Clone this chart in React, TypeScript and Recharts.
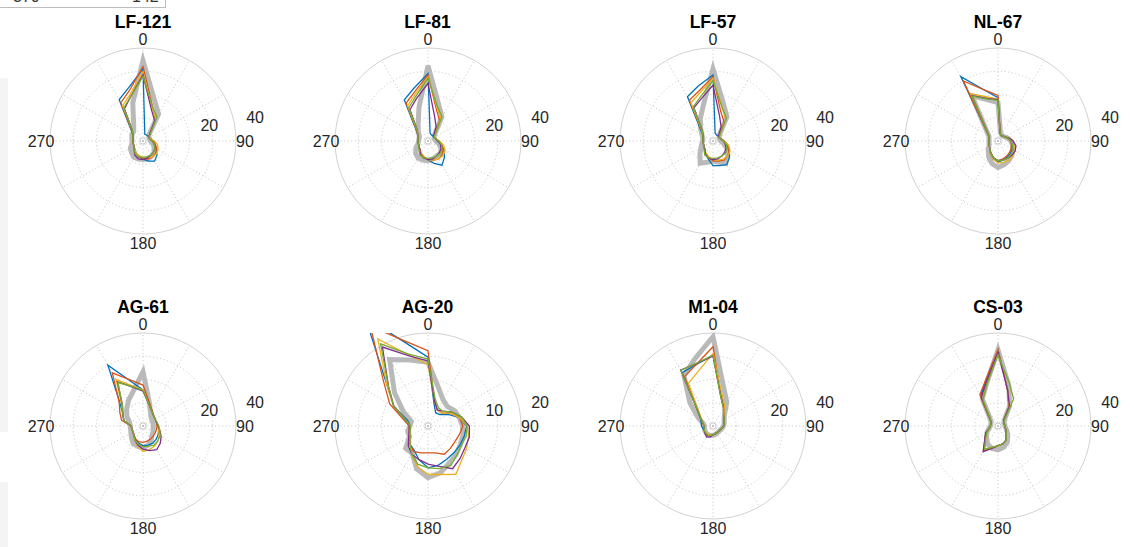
import React from 'react';
import { RadarChart, Radar, PolarGrid, PolarAngleAxis, PolarRadiusAxis } from 'recharts';

// ---------- data ----------
const ANGLES = [0, 15, 30, 45, 60, 75, 90, 105, 120, 135, 150, 165, 180, 195, 210, 225, 240, 255, 270, 285, 300, 315, 330, 345];
const ANGLE_LABELS = [0, 90, 180, 270];
const SPOKE_ANGLES = [0, 30, 60, 90, 120, 150, 180, 210, 240, 270, 300, 330];
const TITLES = ['LF-121', 'LF-81', 'LF-57', 'NL-67', 'AG-61', 'AG-20', 'M1-04', 'CS-03'];
const R_MAX = [40, 40, 40, 40, 40, 20, 40, 40];
const R_TICKS_40 = [20, 40];
const R_TICKS_20 = [10, 20];

// LF-121
const lf121Gray = [34.5, 18.6, 13.4, 3.5, 3, 3, 3.2, 4.5, 5.5, 6.7, 7.5, 8, 8, 8, 8, 7, 6.3, 5, 4.7, 5, 5.5, 5.7, 8, 17];
const lf121Blue = [31, 3, 3, 3, 3, 3.5, 4, 5, 6.5, 8.5, 10, 9, 7.8, 7, 6, 5, 4.5, 4.3, 4.3, 4.5, 5, 7.5, 20.5, 23.8];
const lf121Red = [32, 15.6, 10.8, 4, 3, 3.5, 4.5, 5.5, 7, 7.5, 8, 8, 7.5, 7, 6, 5, 4.5, 4.5, 4.5, 4.5, 5, 7, 19, 22.5];
const lf121Yellow = [29.8, 15, 11, 4, 3, 3.5, 5, 6.5, 7.5, 8, 8, 7.5, 7, 6.5, 6, 5, 4.5, 4.3, 4.3, 4.5, 5, 6.5, 17.5, 21];
const lf121Purple = [28.5, 14, 10, 4, 3, 3, 4, 5, 6, 6.5, 7, 7.5, 8, 8, 7, 5.5, 4.5, 4.3, 4.3, 4.5, 5, 6.5, 16, 20];
const lf121Green = [27.8, 15.5, 12, 4.5, 3, 3, 4, 5, 6, 6.5, 7, 7, 7, 7, 6.5, 5.5, 4.5, 4.3, 4.3, 4.5, 5, 6.5, 16.5, 20];

// LF-81
const lf81Gray = [32.4, 17, 12, 4, 3, 3, 3.3, 5, 6.5, 7.5, 7.5, 8, 8.5, 8.5, 8.5, 7.5, 6, 4.5, 4, 4, 4.3, 6, 8.5, 15];
const lf81Blue = [29, 3.5, 3, 3, 3, 3.5, 4, 6, 8, 10, 12, 10, 8, 7, 6, 5, 4.5, 4.3, 4.3, 4.5, 5, 7.5, 20.4, 23.5];
const lf81Red = [28.4, 14, 10, 4, 3, 3.5, 4.5, 6, 7.5, 8.5, 9, 8.5, 8, 7, 6, 5, 4.5, 4.3, 4.3, 4.5, 5, 7, 18.8, 22];
const lf81Yellow = [27.6, 15, 11, 4.5, 3, 3.5, 5, 7, 8.5, 9, 9, 8.5, 8, 7, 6, 5, 4.5, 4.3, 4.3, 4.5, 5, 6.8, 17.5, 21];
const lf81Purple = [24.8, 11, 7, 3.5, 3, 3.5, 4.5, 5.5, 6.5, 7, 7.5, 8, 8, 7.5, 6.5, 5, 4.5, 4.3, 4.3, 4.5, 5, 6.5, 15.5, 19];
const lf81Green = [27, 15.5, 12, 4.5, 3, 3.5, 4.5, 6, 7, 7.5, 7.5, 7.5, 7.5, 7.5, 7, 5.5, 4.5, 4.3, 4.3, 4.5, 5, 6.5, 16.5, 20];

// LF-57
const lf57Gray = [31, 17, 12, 4, 3, 3, 3.3, 5, 7, 9, 11, 9.5, 8.5, 9.5, 11, 8, 6, 5, 4.5, 4.5, 5.5, 7.5, 11, 16];
const lf57Blue = [28.4, 3.5, 3, 3, 3, 3.5, 4.5, 6, 8, 10, 11.8, 11, 10.6, 8, 6.5, 5, 4.5, 4.3, 4.3, 4.5, 5, 8, 22, 24.5];
const lf57Red = [27.6, 13, 9.5, 4, 3, 3.5, 5, 6.5, 8, 9, 9.5, 9, 8.5, 7.5, 6.5, 5, 4.5, 4.3, 4.3, 4.5, 5, 7, 20.3, 22.5];
const lf57Yellow = [27, 15, 11, 4.5, 3, 3.5, 5, 7, 8.5, 9, 9, 8.5, 8, 7, 6, 5, 4.5, 4.3, 4.3, 4.5, 5, 7, 19, 21.5];
const lf57Purple = [24, 11, 7, 3.5, 3, 3.5, 4.5, 5.5, 6.5, 7, 7.5, 8, 8, 7.5, 6.5, 5, 4.5, 4.3, 4.3, 4.5, 5, 6.5, 16.5, 19];
const lf57Green = [26, 15, 11.5, 4.5, 3, 3.5, 4.5, 6, 7, 7.5, 7.5, 7.5, 7.5, 7.5, 7, 5.5, 4.5, 4.3, 4.3, 4.5, 5, 6.5, 17, 20];

// NL-67
const nl67Gray = [16.5, 4, 3, 3, 3.5, 4.5, 5.5, 6.5, 7.5, 8.5, 9.5, 10.5, 11.4, 10, 8, 6, 4.5, 4, 3.8, 4, 4.6, 7.5, 22.5, 18.4];
const nl67Blue = [18.6, 3.5, 2.7, 3, 3.5, 4.5, 5.5, 6.5, 7, 7.5, 8, 8.5, 9, 8, 6.5, 5, 4.3, 4, 3.8, 4, 4.6, 7.6, 32, 22.7];
const nl67Red = [19.6, 3.5, 2.7, 3, 3.5, 4.5, 5.5, 6, 6.5, 7, 7.5, 8, 8.5, 7.5, 6, 5, 4.3, 4, 3.8, 4, 4.6, 7.6, 29.8, 22.8];
const nl67Yellow = [18, 3.5, 2.7, 3, 3.5, 5, 6.5, 7.5, 8.5, 9, 9.5, 9.5, 9.5, 8, 6.5, 5, 4.3, 4, 3.8, 4, 4.6, 7, 23.5, 19.7];
const nl67Purple = [17.8, 3.5, 2.7, 3, 3.5, 5, 6.5, 8, 8.5, 8.6, 8.5, 8.5, 8.5, 7.5, 6, 5, 4.3, 4, 3.8, 4, 4.6, 7, 22.5, 19];
const nl67Green = [17.5, 3.5, 2.7, 3, 3.5, 4.5, 5.5, 6.5, 7.5, 8, 8.5, 8.5, 8.5, 7.5, 6, 5, 4.3, 4, 3.8, 4, 4.6, 7, 22.3, 18.8];

// AG-61
const ag61Gray = [23.3, 10.5, 6.5, 5, 4.5, 4.5, 4.5, 4.5, 5, 5.5, 7, 8.5, 9.5, 9, 8.6, 7, 6, 5.5, 5.5, 6, 8, 10, 12.6, 15.8];
const ag61Blue = [15.5, 9.8, 7.5, 6.4, 6, 6, 6.4, 7, 7.5, 8, 8.5, 8.5, 8.5, 7.5, 6.5, 5.5, 5, 5, 5, 8.5, 10, 14, 30.2, 19.8];
const ag61Red = [17.6, 10.5, 7.8, 6.5, 6, 6, 6, 6, 6, 6.2, 6.5, 6.7, 7, 7, 6.5, 5.5, 5, 5, 5.2, 9.5, 11.5, 14.5, 26.4, 20.4];
const ag61Yellow = [15.5, 9.8, 7.5, 6.4, 6, 6, 6.4, 7, 8, 9, 10, 10.5, 11, 9, 7, 5.5, 5, 5, 5, 8.5, 10, 13, 23.2, 17.9];
const ag61Purple = [15, 9.8, 7.5, 6.4, 6, 6, 6.5, 7.5, 9, 10.5, 11.8, 11, 10, 8.5, 7, 5.5, 5, 5, 5, 8.5, 10, 12.5, 22, 17.3];
const ag61Green = [15.3, 9.8, 7.5, 6.4, 6, 6.2, 6.8, 7.5, 8.5, 9, 9.5, 9, 9, 8, 7, 5.5, 5, 5, 5, 8.5, 10, 12.5, 21.6, 17.5];

// AG-20
const ag20Gray = [13.7, 8.6, 6.5, 5.9, 6.6, 7, 7.4, 7.8, 8, 8.6, 9.2, 10.4, 11.1, 9.5, 6.8, 6.8, 4.6, 4.5, 3.9, 3.7, 6.1, 10.2, 16.5, 14.7];
const ag20Blue = [14.8, 5, 3.3, 3.5, 5, 7, 8.3, 8.1, 8, 8, 8.2, 8.7, 9, 7.5, 6, 5.5, 4.5, 4, 3.8, 4.5, 8.5, 12.5, 27, 18.5];
const ag20Red = [16.2, 5.5, 4, 4, 5.5, 7, 7.5, 7, 6.7, 6.8, 7, 6, 5.8, 6, 6.3, 5.5, 4.5, 4.2, 4, 5.5, 9.5, 13.5, 24.8, 18.9];
const ag20Yellow = [13.2, 5.5, 4, 4, 5.5, 7, 8.5, 9, 9.6, 10.3, 12, 10.8, 10.4, 9, 7, 5.5, 4.5, 4, 3.8, 5, 8.5, 12.5, 21.6, 15.8];
const ag20Purple = [14, 5.5, 4, 4.5, 6, 7.5, 8.9, 9.2, 9.2, 9.8, 10.6, 9, 8.2, 7.5, 7, 6, 4.8, 4.2, 4, 5, 8.5, 12, 19.6, 15.6];
const ag20Green = [14.4, 6, 4.5, 4.5, 6, 7.5, 8.4, 8.5, 8.3, 8.8, 9.8, 9.5, 9, 8.5, 7, 5.5, 4.5, 4, 3.8, 5, 8.5, 12, 20.4, 16];

// M1-04
const m104Gray = [38.4, 17.5, 11.9, 7, 5.5, 5, 4.5, 4, 3.5, 3.5, 3.5, 3.8, 4, 4.3, 4.4, 4.2, 4, 3.8, 3.6, 4.5, 7.5, 14, 25, 30];
const m104Blue = [30.5, 14, 9.5, 6.8, 5.5, 5, 4.7, 4, 3.5, 3.3, 3.3, 3.5, 3.8, 4.2, 4.5, 4.3, 4.2, 4.5, 5, 5.2, 6.2, 9.5, 26.5, 27.4];
const m104Red = [34.1, 13.5, 9, 6.5, 5.5, 5, 4.5, 4, 3.5, 3.3, 3.3, 3.5, 3.8, 4.3, 4.8, 4.5, 4.2, 4, 3.9, 4.5, 5.8, 9, 24.5, 27.5];
const m104Yellow = [31.2, 14.5, 10, 7, 5.5, 5, 4.5, 4, 3.5, 3.3, 3.3, 3.5, 3.8, 4, 4.2, 4.1, 4, 3.9, 3.8, 4.3, 5.5, 8.5, 21.2, 24.4];
const m104Purple = [30, 13, 9, 6.5, 5.5, 5, 4.5, 4, 3.5, 3.3, 3.3, 3.5, 3.8, 4.8, 5.5, 4.8, 4.3, 4, 3.8, 4.5, 6, 9.3, 27.8, 27.8];
const m104Green = [30.5, 13, 9, 6.5, 5.5, 5, 4.5, 4, 3.5, 3.3, 3.3, 3.5, 3.8, 4.2, 4.5, 4.3, 4.2, 4, 3.8, 4.5, 6, 9.3, 27.6, 27.9];

// CS-03
const cs03Gray = [32.7, 18, 10, 4, 3, 3, 3, 3.5, 4.5, 6, 8, 9.5, 10.3, 10, 9, 7, 5.5, 4, 3.3, 3.2, 3.4, 5, 13.5, 19];
const cs03Blue = [32.7, 16, 9.5, 3.5, 2.8, 2.8, 3, 3.3, 4, 5, 7, 8, 8.5, 9.5, 12, 8, 6, 4, 3.3, 3.2, 3.4, 5.3, 15, 20];
const cs03Red = [33, 16, 9.5, 3.5, 2.8, 2.8, 3, 3.3, 4, 5, 7, 8, 8.5, 9.5, 12.3, 8, 6, 4, 3.3, 3.2, 3.4, 5.5, 15.6, 20.5];
const cs03Yellow = [32.5, 16, 9.5, 3.5, 2.8, 2.8, 3, 3.3, 4, 5, 7, 8, 8.7, 9.5, 11.5, 7.5, 5.5, 4, 3.3, 3.2, 3.4, 5, 13, 19];
const cs03Purple = [32, 16, 9.8, 3.5, 2.8, 2.8, 3, 3.3, 4, 5, 7, 8, 8.5, 10, 12.8, 8, 6, 4, 3.3, 3.2, 3.4, 5, 14.3, 19.5];
const cs03Green = [30.5, 19, 13.4, 4, 2.8, 2.8, 3, 3.3, 4, 5, 7, 8, 8.5, 9.5, 11.5, 7.5, 5.5, 4, 3.3, 3.2, 3.4, 5, 13, 18.5];

const PANEL_SERIES = [
  [lf121Gray, lf121Blue, lf121Red, lf121Yellow, lf121Purple, lf121Green],
  [lf81Gray, lf81Blue, lf81Red, lf81Yellow, lf81Purple, lf81Green],
  [lf57Gray, lf57Blue, lf57Red, lf57Yellow, lf57Purple, lf57Green],
  [nl67Gray, nl67Blue, nl67Red, nl67Yellow, nl67Purple, nl67Green],
  [ag61Gray, ag61Blue, ag61Red, ag61Yellow, ag61Purple, ag61Green],
  [ag20Gray, ag20Blue, ag20Red, ag20Yellow, ag20Purple, ag20Green],
  [m104Gray, m104Blue, m104Red, m104Yellow, m104Purple, m104Green],
  [cs03Gray, cs03Blue, cs03Red, cs03Yellow, cs03Purple, cs03Green],
];

// ---------- styles ----------
const SERIES_KEYS = ['gray', 'blue', 'red', 'yellow', 'purple', 'green'];
const SERIES_COLORS: Record<string, string> = {
  gray: '#b9b9b9', blue: '#0072BD', red: '#D95319', yellow: '#EDB120', purple: '#7E2F8E', green: '#77AC30',
};
const SERIES_WIDTH: Record<string, number> = { gray: 5, blue: 1.3, red: 1.3, yellow: 1.3, purple: 1.3, green: 1.3 };

const FONT = "'Liberation Sans', Arial, Helvetica, sans-serif";
const W = 284, H = 285, CX = 142, CY = 141, R = 93;
const COL_LEFT = [1, 285.5, 571, 856];
const ROW_TOP = [0, 285];

function AngleTick(props: any) {
  const { x, y, payload } = props;
  const v = Number(payload && payload.value);
  if (!ANGLE_LABELS.includes(v)) return <g />;
  return (
    <text x={x} y={y + 0.5} textAnchor="middle" dominantBaseline="central" fontSize={16} fill="#262626" fontFamily={FONT}>
      {String(v)}
    </text>
  );
}

function RadiusTick(props: any) {
  const { x, y, payload } = props;
  const v = Number(payload && payload.value);
  if (!v) return <g />;
  return (
    <text x={x + 20.5} y={y - 7.5} textAnchor="middle" dominantBaseline="central" fontSize={16} fill="#262626" fontFamily={FONT}>
      {String(v)}
    </text>
  );
}

function Panel({ index }: { index: number }) {
  const series = PANEL_SERIES[index];
  const rMax = R_MAX[index];
  const rTicks = rMax === 20 ? R_TICKS_20 : R_TICKS_40;
  const data = ANGLES.map((a, i) => {
    const row: any = { angle: a };
    SERIES_KEYS.forEach((k, j) => { row[k] = series[j][i]; });
    return row;
  });
  const left = COL_LEFT[index % 4];
  const top = ROW_TOP[Math.floor(index / 4)];
  const margin = { top: 0, right: 0, bottom: 0, left: 0 };
  return (
    <>
      <div style={{ position: 'absolute', left, top, width: W, height: H }}>
        <RadarChart width={W} height={H} cx={CX} cy={CY} outerRadius={R} data={data} margin={margin}>
          <PolarGrid gridType="circle" polarAngles={SPOKE_ANGLES} polarRadius={[R / 4, R / 2, (3 * R) / 4]}
            stroke="#c4c4c4" strokeDasharray="1 2.6" strokeWidth={1} />
          <PolarGrid gridType="circle" radialLines={false} polarAngles={SPOKE_ANGLES} polarRadius={[3]}
            stroke="#cccccc" strokeWidth={1} />
          <PolarAngleAxis dataKey="angle" axisLineType="circle" axisLine={{ stroke: '#d2d2d2', strokeWidth: 1 }}
            tickLine={false} tickSize={9} tick={AngleTick} />
          <PolarRadiusAxis angle={10} domain={[0, rMax]} allowDataOverflow type="number" ticks={rTicks}
            axisLine={false} tick={RadiusTick} />
        </RadarChart>
      </div>
      <div style={{ position: 'absolute', left: left + CX - R, top: top + CY - R, width: 2 * R, height: 2 * R, overflow: 'hidden' }}>
        <div style={{ position: 'absolute', left: -(CX - R), top: -(CY - R), width: W, height: H }}>
          <RadarChart width={W} height={H} cx={CX} cy={CY} outerRadius={R} data={data} margin={margin}>
            <PolarAngleAxis dataKey="angle" tick={false} axisLine={false} tickLine={false} />
            <PolarRadiusAxis domain={[0, rMax]} allowDataOverflow type="number" tick={false} axisLine={false} />
            {SERIES_KEYS.map((k) => (
              <Radar key={k} dataKey={k} stroke={SERIES_COLORS[k]} strokeWidth={SERIES_WIDTH[k]}
                fill="none" fillOpacity={0} dot={false} isAnimationActive={false} />
            ))}
          </RadarChart>
        </div>
      </div>
      <div style={{
        position: 'absolute', left: left + CX - 80, width: 160, top: top + CY - 130, height: 22,
        textAlign: 'center', fontFamily: FONT, fontWeight: 'bold', fontSize: 17.5, lineHeight: '22px', color: '#000',
      }}>
        {TITLES[index]}
      </div>
    </>
  );
}

export default function App() {
  return (
    <div style={{ position: 'fixed', left: 0, top: 0, width: 1134, height: 547, background: '#ffffff', overflow: 'hidden' }}>
      <div style={{ position: 'absolute', left: 0, top: 78, width: 8, height: 354, background: '#f4f4f4', borderRadius: '0 2px 2px 0' }} />
      <div style={{ position: 'absolute', left: 0, top: 482, width: 8, height: 80, background: '#f4f4f4', borderRadius: '0 2px 0 0' }} />
      <div style={{ position: 'absolute', left: -2, top: -20, width: 166, height: 26, border: '1px solid #bdbdbd', background: '#fff' }}>
        <span style={{ position: 'absolute', left: 14, top: 7.5, fontFamily: FONT, fontSize: 16, lineHeight: '16px', color: '#333' }}>370</span>
        <span style={{ position: 'absolute', left: 133, top: 7.5, fontFamily: FONT, fontSize: 16, lineHeight: '16px', color: '#333' }}>142</span>
      </div>
      {TITLES.map((t, i) => <Panel key={t} index={i} />)}
    </div>
  );
}
